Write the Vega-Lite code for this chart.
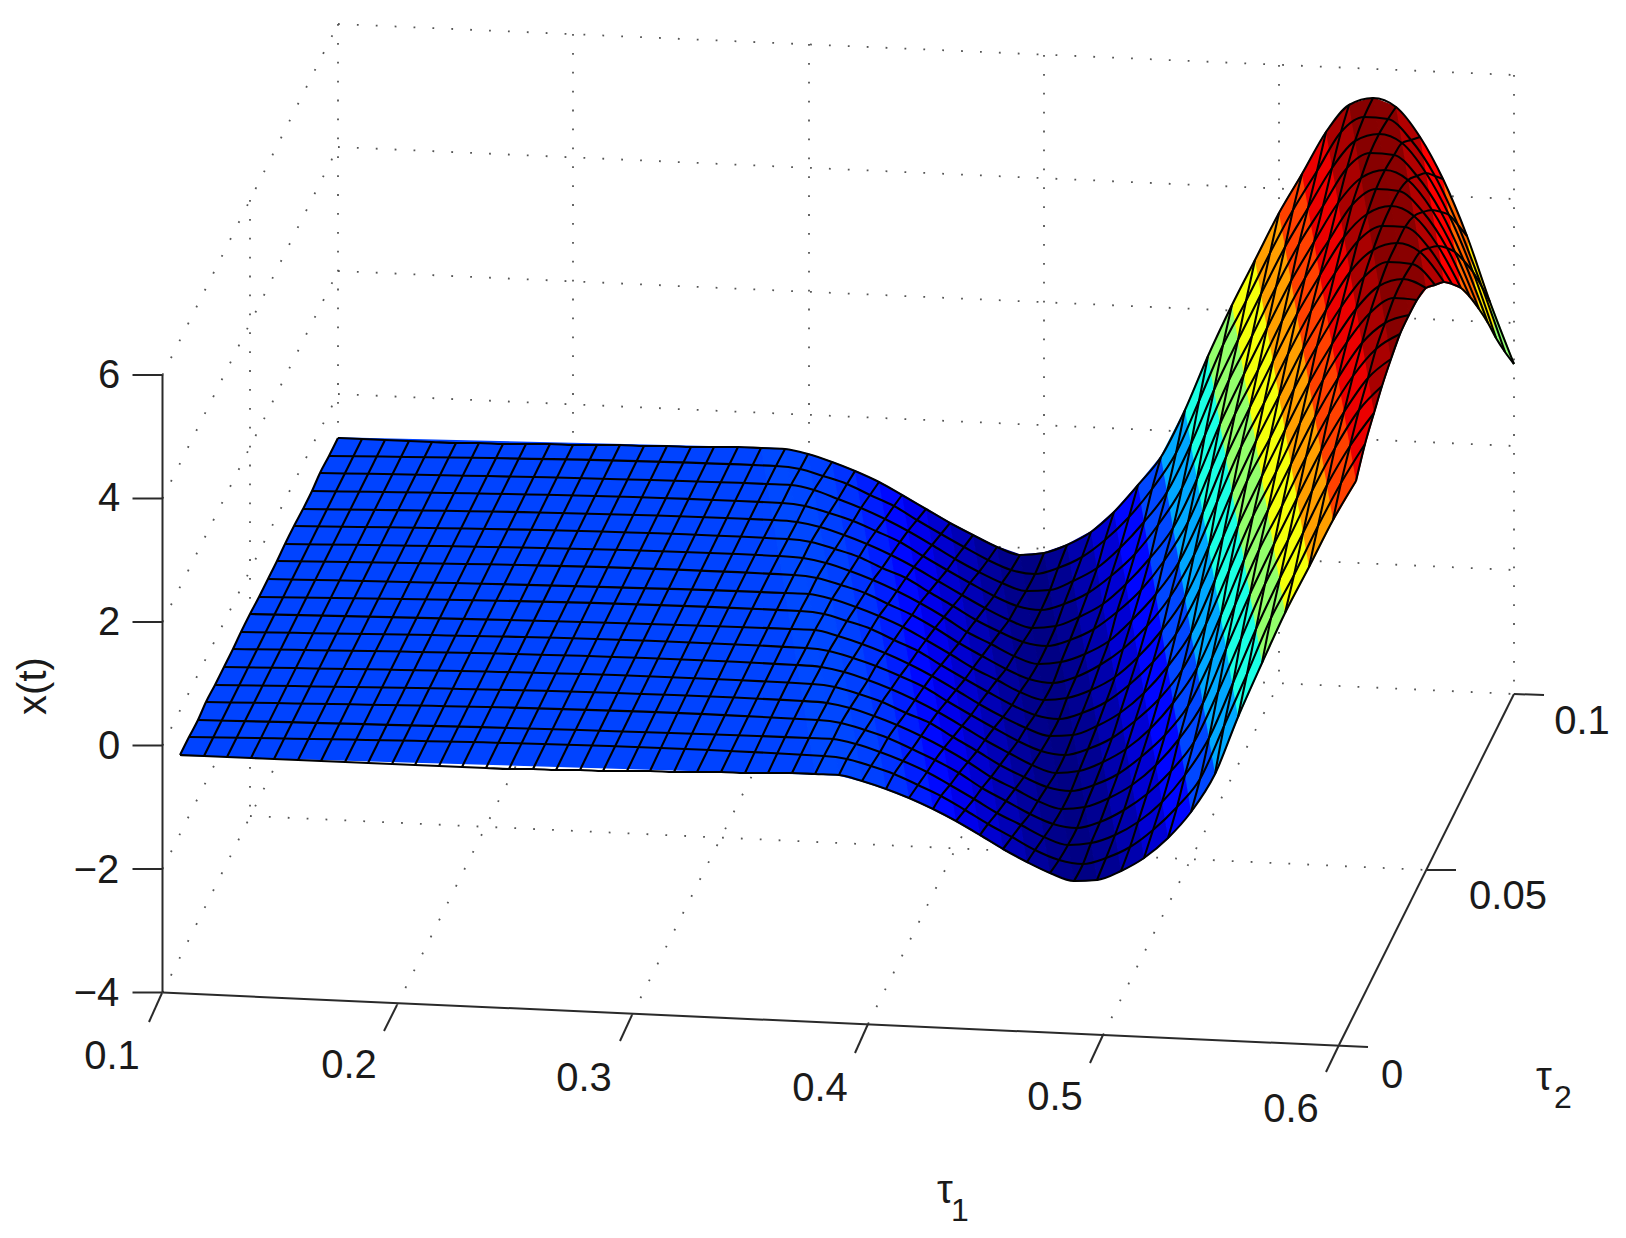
{"$schema":"https://vega.github.io/schema/vega-lite/v6.json","width":1626,"height":1238,"padding":0,"autosize":{"type":"fit","contains":"padding"},"background":"white","view":{"stroke":null},
"datasets":{
"box":[
{"l":"b0","x":338,"y":24},{"l":"b0","x":1514,"y":75},{"l":"b1","x":338,"y":147},{"l":"b1","x":1514,"y":199},{"l":"b2","x":338,"y":271},{"l":"b2","x":1514,"y":323},{"l":"b3","x":338,"y":394},{"l":"b3","x":1514,"y":446},{"l":"b4","x":338,"y":517},{"l":"b4","x":1514,"y":570},{"l":"b5","x":338,"y":640},{"l":"b5","x":1514,"y":694},
{"l":"v0","x":338,"y":24},{"l":"v0","x":338,"y":640},{"l":"v1","x":573,"y":34},{"l":"v1","x":573,"y":651},{"l":"v2","x":809,"y":44},{"l":"v2","x":809,"y":662},{"l":"v3","x":1044,"y":55},{"l":"v3","x":1044,"y":672},{"l":"v4","x":1279,"y":65},{"l":"v4","x":1279,"y":683},{"l":"v5","x":1514,"y":75},{"l":"v5","x":1514,"y":694},
{"l":"w0","x":162.5,"y":375},{"l":"w0","x":338,"y":24},{"l":"w1","x":162.5,"y":498.5},{"l":"w1","x":338,"y":147},{"l":"w2","x":162.5,"y":622},{"l":"w2","x":338,"y":271},{"l":"w3","x":162.5,"y":745.5},{"l":"w3","x":338,"y":394},{"l":"w4","x":162.5,"y":869},{"l":"w4","x":338,"y":517},{"l":"w5","x":162.5,"y":992.5},{"l":"w5","x":338,"y":640},
{"l":"m","x":250,"y":200},{"l":"m","x":250,"y":816},{"l":"f","x":250,"y":816},{"l":"f","x":1427,"y":870},
{"l":"g2","x":397,"y":1005},{"l":"g2","x":573,"y":651},{"l":"g3","x":632,"y":1015},{"l":"g3","x":809,"y":662},{"l":"g4","x":868,"y":1024},{"l":"g4","x":1044,"y":672},{"l":"g5","x":1103,"y":1035},{"l":"g5","x":1279,"y":683}],
"axes":[
{"l":"z","x":162.5,"y":375},{"l":"z","x":162.5,"y":992.5},
{"l":"z6","x":132.5,"y":375},{"l":"z6","x":162.5,"y":375},{"l":"z4","x":132.5,"y":498.5},{"l":"z4","x":162.5,"y":498.5},{"l":"z2","x":132.5,"y":622},{"l":"z2","x":162.5,"y":622},{"l":"z0","x":132.5,"y":745.5},{"l":"z0","x":162.5,"y":745.5},{"l":"zm2","x":132.5,"y":869},{"l":"zm2","x":162.5,"y":869},{"l":"zm4","x":132.5,"y":992.5},{"l":"zm4","x":162.5,"y":992.5},
{"l":"t1","x":162.5,"y":992.5},{"l":"t1","x":1368,"y":1047},
{"l":"a1","x":149,"y":1022},{"l":"a1","x":162,"y":993},{"l":"a2","x":384,"y":1031},{"l":"a2","x":397,"y":1005},{"l":"a3","x":620,"y":1041},{"l":"a3","x":632,"y":1015},{"l":"a4","x":855,"y":1053},{"l":"a4","x":868,"y":1024},{"l":"a5","x":1090,"y":1063},{"l":"a5","x":1103,"y":1035},{"l":"a6","x":1326,"y":1072},{"l":"a6","x":1339,"y":1045},
{"l":"t2","x":1339,"y":1045},{"l":"t2","x":1514,"y":694},{"l":"c1","x":1427,"y":870},{"l":"c1","x":1456,"y":870},{"l":"c2","x":1514,"y":694},{"l":"c2","x":1544,"y":695}],
"labels":[
{"t":"6","x":109,"y":376},{"t":"4","x":109,"y":499},{"t":"2","x":109,"y":623},{"t":"0","x":109,"y":747},{"t":"−2","x":96.5,"y":871},{"t":"−4","x":96.5,"y":994},
{"t":"0.1","x":112,"y":1057},{"t":"0.2","x":349,"y":1066},{"t":"0.3","x":584,"y":1079},{"t":"0.4","x":820,"y":1089},{"t":"0.5","x":1055,"y":1098},{"t":"0.6","x":1291,"y":1110},
{"t":"0","x":1392,"y":1076},{"t":"0.05","x":1508,"y":897},{"t":"0.1","x":1582,"y":722},
{"t":"τ","x":945,"y":1191},{"t":"τ","x":1544,"y":1078}],
"subs":[{"t":"1","x":960,"y":1211},{"t":"2","x":1563,"y":1098}],
"ylabel":[{"t":"x(t)","x":34,"y":686}],
"bands":[
{"b":26,"o":1,"z":-0.68,"x":180,"y":755},{"b":26,"o":2,"z":-0.68,"x":815,"y":774},{"b":26,"o":3,"z":-0.68,"x":761,"y":448},{"b":26,"o":4,"z":-0.68,"x":338,"y":438},
{"b":27,"o":1,"z":-0.63,"x":815,"y":774},{"b":27,"o":2,"z":-0.63,"x":839,"y":775},{"b":27,"o":3,"z":-0.63,"x":785,"y":449},{"b":27,"o":4,"z":-0.63,"x":761,"y":448},
{"b":28,"o":1,"z":-0.65,"x":839,"y":775},{"b":28,"o":2,"z":-0.65,"x":862,"y":781},{"b":28,"o":3,"z":-0.65,"x":808,"y":454},{"b":28,"o":4,"z":-0.65,"x":785,"y":449},
{"b":29,"o":1,"z":-0.7,"x":862,"y":781},{"b":29,"o":2,"z":-0.7,"x":886,"y":789},{"b":29,"o":3,"z":-0.7,"x":832,"y":462},{"b":29,"o":4,"z":-0.7,"x":808,"y":454},
{"b":30,"o":1,"z":-0.81,"x":886,"y":789},{"b":30,"o":2,"z":-0.81,"x":909,"y":798},{"b":30,"o":3,"z":-0.81,"x":855,"y":471},{"b":30,"o":4,"z":-0.81,"x":832,"y":462},
{"b":31,"o":1,"z":-0.96,"x":909,"y":798},{"b":31,"o":2,"z":-0.96,"x":933,"y":809},{"b":31,"o":3,"z":-0.96,"x":879,"y":482},{"b":31,"o":4,"z":-0.96,"x":855,"y":471},
{"b":32,"o":1,"z":-1.12,"x":933,"y":809},{"b":32,"o":2,"z":-1.12,"x":956,"y":821},{"b":32,"o":3,"z":-1.12,"x":902,"y":495},{"b":32,"o":4,"z":-1.12,"x":879,"y":482},
{"b":33,"o":1,"z":-1.33,"x":956,"y":821},{"b":33,"o":2,"z":-1.33,"x":980,"y":835},{"b":33,"o":3,"z":-1.33,"x":926,"y":509},{"b":33,"o":4,"z":-1.33,"x":902,"y":495},
{"b":34,"o":1,"z":-1.54,"x":980,"y":835},{"b":34,"o":2,"z":-1.54,"x":1003,"y":849},{"b":34,"o":3,"z":-1.54,"x":950,"y":523},{"b":34,"o":4,"z":-1.54,"x":926,"y":509},
{"b":35,"o":1,"z":-1.74,"x":1003,"y":849},{"b":35,"o":2,"z":-1.74,"x":1027,"y":862},{"b":35,"o":3,"z":-1.74,"x":973,"y":535},{"b":35,"o":4,"z":-1.74,"x":950,"y":523},
{"b":36,"o":1,"z":-1.93,"x":1027,"y":862},{"b":36,"o":2,"z":-1.93,"x":1050,"y":873},{"b":36,"o":3,"z":-1.93,"x":997,"y":547},{"b":36,"o":4,"z":-1.93,"x":973,"y":535},
{"b":37,"o":1,"z":-2.07,"x":1050,"y":873},{"b":37,"o":2,"z":-2.07,"x":1074,"y":881},{"b":37,"o":3,"z":-2.07,"x":1020,"y":555},{"b":37,"o":4,"z":-2.07,"x":997,"y":547},
{"b":38,"o":1,"z":-2.12,"x":1074,"y":881},{"b":38,"o":2,"z":-2.12,"x":1097,"y":880},{"b":38,"o":3,"z":-2.12,"x":1044,"y":553},{"b":38,"o":4,"z":-2.12,"x":1020,"y":555},
{"b":39,"o":1,"z":-2.01,"x":1097,"y":880},{"b":39,"o":2,"z":-2.01,"x":1121,"y":871},{"b":39,"o":3,"z":-2.01,"x":1067,"y":545},{"b":39,"o":4,"z":-2.01,"x":1044,"y":553},
{"b":40,"o":1,"z":-1.81,"x":1121,"y":871},{"b":40,"o":2,"z":-1.81,"x":1144,"y":858},{"b":40,"o":3,"z":-1.81,"x":1091,"y":532},{"b":40,"o":4,"z":-1.81,"x":1067,"y":545},
{"b":41,"o":1,"z":-1.52,"x":1144,"y":858},{"b":41,"o":2,"z":-1.52,"x":1168,"y":838},{"b":41,"o":3,"z":-1.52,"x":1114,"y":512},{"b":41,"o":4,"z":-1.52,"x":1091,"y":532},
{"b":42,"o":1,"z":-1.14,"x":1168,"y":838},{"b":42,"o":2,"z":-1.14,"x":1191,"y":812},{"b":42,"o":3,"z":-1.14,"x":1138,"y":485},{"b":42,"o":4,"z":-1.14,"x":1114,"y":512},
{"b":43,"o":1,"z":-0.65,"x":1191,"y":812},{"b":43,"o":2,"z":-0.65,"x":1215,"y":774},{"b":43,"o":3,"z":-0.65,"x":1161,"y":457},{"b":43,"o":4,"z":-0.65,"x":1138,"y":485},
{"b":44,"o":1,"z":0.08,"x":1215,"y":774},{"b":44,"o":2,"z":0.08,"x":1238,"y":717},{"b":44,"o":3,"z":0.08,"x":1185,"y":410},{"b":44,"o":4,"z":0.08,"x":1161,"y":457},
{"b":45,"o":1,"z":0.95,"x":1238,"y":717},{"b":45,"o":2,"z":0.95,"x":1262,"y":663},{"b":45,"o":3,"z":0.95,"x":1208,"y":356},{"b":45,"o":4,"z":0.95,"x":1185,"y":410},
{"b":46,"o":1,"z":1.86,"x":1262,"y":663},{"b":46,"o":2,"z":1.86,"x":1285,"y":613},{"b":46,"o":3,"z":1.86,"x":1232,"y":305},{"b":46,"o":4,"z":1.86,"x":1208,"y":356},
{"b":47,"o":1,"z":2.59,"x":1285,"y":613},{"b":47,"o":2,"z":2.59,"x":1309,"y":567},{"b":47,"o":3,"z":2.59,"x":1255,"y":260},{"b":47,"o":4,"z":2.59,"x":1232,"y":305},
{"b":48,"o":1,"z":3.4,"x":1309,"y":567},{"b":48,"o":2,"z":3.4,"x":1333,"y":520},{"b":48,"o":3,"z":3.4,"x":1279,"y":213},{"b":48,"o":4,"z":3.4,"x":1255,"y":260},
{"b":49,"o":1,"z":4.11,"x":1333,"y":520},{"b":49,"o":2,"z":4.11,"x":1356,"y":481},{"b":49,"o":3,"z":4.11,"x":1302,"y":174},{"b":49,"o":4,"z":4.11,"x":1279,"y":213},
{"b":50,"o":1,"z":4.75,"x":1356,"y":481},{"b":50,"o":2,"z":4.75,"x":1365,"y":444},{"b":50,"o":3,"z":4.75,"x":1374,"y":413},{"b":50,"o":4,"z":4.75,"x":1326,"y":132},{"b":50,"o":5,"z":4.75,"x":1302,"y":174},
{"b":51,"o":1,"z":5.26,"x":1374,"y":413},{"b":51,"o":2,"z":5.26,"x":1382,"y":386},{"b":51,"o":3,"z":5.26,"x":1391,"y":359},{"b":51,"o":4,"z":5.26,"x":1349,"y":105},{"b":51,"o":5,"z":5.26,"x":1326,"y":132},
{"b":52,"o":1,"z":5.52,"x":1391,"y":359},{"b":52,"o":2,"z":5.52,"x":1400,"y":334},{"b":52,"o":3,"z":5.52,"x":1409,"y":315},{"b":52,"o":4,"z":5.52,"x":1373,"y":98},{"b":52,"o":5,"z":5.52,"x":1349,"y":105},
{"b":53,"o":1,"z":5.5,"x":1409,"y":315},{"b":53,"o":2,"z":5.5,"x":1417,"y":300},{"b":53,"o":3,"z":5.5,"x":1426,"y":288},{"b":53,"o":4,"z":5.5,"x":1396,"y":107},{"b":53,"o":5,"z":5.5,"x":1373,"y":98},
{"b":54,"o":1,"z":5.19,"x":1426,"y":288},{"b":54,"o":2,"z":5.19,"x":1435,"y":285},{"b":54,"o":3,"z":5.19,"x":1444,"y":282},{"b":54,"o":4,"z":5.19,"x":1420,"y":137},{"b":54,"o":5,"z":5.19,"x":1396,"y":107},
{"b":55,"o":1,"z":4.62,"x":1444,"y":282},{"b":55,"o":2,"z":4.62,"x":1452,"y":284},{"b":55,"o":3,"z":4.62,"x":1461,"y":288},{"b":55,"o":4,"z":4.62,"x":1443,"y":179},{"b":55,"o":5,"z":4.62,"x":1420,"y":137},
{"b":56,"o":1,"z":3.84,"x":1461,"y":288},{"b":56,"o":2,"z":3.84,"x":1470,"y":297},{"b":56,"o":3,"z":3.84,"x":1479,"y":309},{"b":56,"o":4,"z":3.84,"x":1467,"y":236},{"b":56,"o":5,"z":3.84,"x":1443,"y":179},
{"b":57,"o":1,"z":2.85,"x":1479,"y":309},{"b":57,"o":2,"z":2.85,"x":1488,"y":323},{"b":57,"o":3,"z":2.85,"x":1496,"y":338},{"b":57,"o":4,"z":2.85,"x":1490,"y":302},{"b":57,"o":5,"z":2.85,"x":1467,"y":236},
{"b":58,"o":1,"z":1.82,"x":1496,"y":338},{"b":58,"o":2,"z":1.82,"x":1505,"y":352},{"b":58,"o":3,"z":1.82,"x":1514,"y":364},{"b":58,"o":4,"z":1.82,"x":1490,"y":302}],
"grid":[
{"i":0,"j":0,"x":180,"y":755},{"i":1,"j":0,"x":204,"y":756},{"i":2,"j":0,"x":227,"y":757},{"i":3,"j":0,"x":251,"y":758},{"i":4,"j":0,"x":274,"y":759},{"i":5,"j":0,"x":298,"y":760},{"i":6,"j":0,"x":321,"y":761},{"i":7,"j":0,"x":345,"y":762},{"i":8,"j":0,"x":368,"y":763},{"i":9,"j":0,"x":392,"y":764},{"i":10,"j":0,"x":415,"y":765},{"i":11,"j":0,"x":439,"y":766},{"i":12,"j":0,"x":462,"y":767},{"i":13,"j":0,"x":486,"y":768},{"i":14,"j":0,"x":509,"y":769},{"i":15,"j":0,"x":533,"y":769},{"i":16,"j":0,"x":556,"y":770},{"i":17,"j":0,"x":580,"y":770},{"i":18,"j":0,"x":603,"y":771},{"i":19,"j":0,"x":627,"y":771},{"i":20,"j":0,"x":650,"y":771},{"i":21,"j":0,"x":674,"y":772},{"i":22,"j":0,"x":697,"y":772},{"i":23,"j":0,"x":721,"y":772},{"i":24,"j":0,"x":745,"y":773},{"i":25,"j":0,"x":768,"y":773},{"i":26,"j":0,"x":792,"y":773},
{"i":27,"j":0,"x":815,"y":774},{"i":28,"j":0,"x":839,"y":775},{"i":29,"j":0,"x":862,"y":781},{"i":30,"j":0,"x":886,"y":789},{"i":31,"j":0,"x":909,"y":798},{"i":32,"j":0,"x":933,"y":809},{"i":33,"j":0,"x":956,"y":821},{"i":34,"j":0,"x":980,"y":835},{"i":35,"j":0,"x":1003,"y":849},{"i":36,"j":0,"x":1027,"y":862},{"i":37,"j":0,"x":1050,"y":873},{"i":38,"j":0,"x":1074,"y":881},{"i":39,"j":0,"x":1097,"y":880},{"i":40,"j":0,"x":1121,"y":871},{"i":41,"j":0,"x":1144,"y":858},{"i":42,"j":0,"x":1168,"y":838},{"i":43,"j":0,"x":1191,"y":812},{"i":44,"j":0,"x":1215,"y":774},{"i":45,"j":0,"x":1238,"y":717},{"i":46,"j":0,"x":1262,"y":663},{"i":47,"j":0,"x":1285,"y":613},{"i":48,"j":0,"x":1309,"y":567},{"i":49,"j":0,"x":1333,"y":520},{"i":50,"j":0,"x":1356,"y":481},
{"i":0,"j":1,"x":189,"y":737},{"i":27,"j":1,"x":824,"y":756},{"i":28,"j":1,"x":847,"y":759},{"i":29,"j":1,"x":871,"y":766},{"i":30,"j":1,"x":894,"y":774},{"i":31,"j":1,"x":918,"y":785},{"i":32,"j":1,"x":941,"y":796},{"i":33,"j":1,"x":965,"y":810},{"i":34,"j":1,"x":988,"y":824},{"i":35,"j":1,"x":1012,"y":837},{"i":36,"j":1,"x":1035,"y":850},{"i":37,"j":1,"x":1059,"y":860},{"i":38,"j":1,"x":1083,"y":864},{"i":39,"j":1,"x":1106,"y":858},{"i":40,"j":1,"x":1130,"y":847},{"i":41,"j":1,"x":1153,"y":830},{"i":42,"j":1,"x":1177,"y":807},{"i":43,"j":1,"x":1200,"y":779},{"i":44,"j":1,"x":1224,"y":726},{"i":45,"j":1,"x":1247,"y":674},{"i":46,"j":1,"x":1271,"y":618},{"i":47,"j":1,"x":1294,"y":575},{"i":48,"j":1,"x":1318,"y":526},{"i":49,"j":1,"x":1341,"y":483},{"i":50,"j":1,"x":1365,"y":444},
{"i":0,"j":2,"x":198,"y":720},{"i":26,"j":2,"x":809,"y":738},{"i":27,"j":2,"x":833,"y":739},{"i":28,"j":2,"x":856,"y":744},{"i":29,"j":2,"x":880,"y":752},{"i":30,"j":2,"x":903,"y":761},{"i":31,"j":2,"x":927,"y":772},{"i":32,"j":2,"x":950,"y":785},{"i":33,"j":2,"x":974,"y":799},{"i":34,"j":2,"x":997,"y":813},{"i":35,"j":2,"x":1021,"y":825},{"i":36,"j":2,"x":1044,"y":837},{"i":37,"j":2,"x":1068,"y":845},{"i":38,"j":2,"x":1091,"y":843},{"i":39,"j":2,"x":1115,"y":835},{"i":40,"j":2,"x":1138,"y":822},{"i":41,"j":2,"x":1162,"y":802},{"i":42,"j":2,"x":1185,"y":775},{"i":43,"j":2,"x":1209,"y":738},{"i":44,"j":2,"x":1233,"y":683},{"i":45,"j":2,"x":1256,"y":629},{"i":46,"j":2,"x":1280,"y":578},{"i":47,"j":2,"x":1303,"y":533},{"i":48,"j":2,"x":1327,"y":485},{"i":49,"j":2,"x":1350,"y":446},{"i":50,"j":2,"x":1374,"y":413},
{"i":0,"j":3,"x":206,"y":702},{"i":26,"j":3,"x":818,"y":720},{"i":27,"j":3,"x":841,"y":723},{"i":28,"j":3,"x":865,"y":730},{"i":29,"j":3,"x":888,"y":738},{"i":30,"j":3,"x":912,"y":749},{"i":31,"j":3,"x":935,"y":760},{"i":32,"j":3,"x":959,"y":773},{"i":33,"j":3,"x":982,"y":788},{"i":34,"j":3,"x":1006,"y":801},{"i":35,"j":3,"x":1030,"y":814},{"i":36,"j":3,"x":1053,"y":824},{"i":37,"j":3,"x":1077,"y":828},{"i":38,"j":3,"x":1100,"y":822},{"i":39,"j":3,"x":1124,"y":810},{"i":40,"j":3,"x":1147,"y":794},{"i":41,"j":3,"x":1171,"y":771},{"i":42,"j":3,"x":1194,"y":742},{"i":43,"j":3,"x":1218,"y":692},{"i":44,"j":3,"x":1241,"y":639},{"i":45,"j":3,"x":1265,"y":584},{"i":46,"j":3,"x":1288,"y":540},{"i":47,"j":3,"x":1312,"y":491},{"i":48,"j":3,"x":1335,"y":448},{"i":49,"j":3,"x":1359,"y":410},{"i":50,"j":3,"x":1382,"y":386},
{"i":0,"j":4,"x":215,"y":685},{"i":25,"j":4,"x":803,"y":701},{"i":26,"j":4,"x":827,"y":703},{"i":27,"j":4,"x":850,"y":708},{"i":28,"j":4,"x":874,"y":716},{"i":29,"j":4,"x":897,"y":725},{"i":30,"j":4,"x":921,"y":736},{"i":31,"j":4,"x":944,"y":748},{"i":32,"j":4,"x":968,"y":762},{"i":33,"j":4,"x":991,"y":777},{"i":34,"j":4,"x":1015,"y":789},{"i":35,"j":4,"x":1038,"y":801},{"i":36,"j":4,"x":1062,"y":809},{"i":37,"j":4,"x":1085,"y":807},{"i":38,"j":4,"x":1109,"y":798},{"i":39,"j":4,"x":1132,"y":785},{"i":40,"j":4,"x":1156,"y":765},{"i":41,"j":4,"x":1179,"y":739},{"i":42,"j":4,"x":1203,"y":703},{"i":43,"j":4,"x":1226,"y":649},{"i":44,"j":4,"x":1250,"y":594},{"i":45,"j":4,"x":1274,"y":544},{"i":46,"j":4,"x":1297,"y":498},{"i":47,"j":4,"x":1321,"y":451},{"i":48,"j":4,"x":1344,"y":412},{"i":49,"j":4,"x":1368,"y":378},{"i":50,"j":4,"x":1391,"y":359},
{"i":0,"j":5,"x":224,"y":667},{"i":25,"j":5,"x":812,"y":684},{"i":26,"j":5,"x":835,"y":687},{"i":27,"j":5,"x":859,"y":694},{"i":28,"j":5,"x":882,"y":702},{"i":29,"j":5,"x":906,"y":713},{"i":30,"j":5,"x":930,"y":723},{"i":31,"j":5,"x":953,"y":737},{"i":32,"j":5,"x":977,"y":751},{"i":33,"j":5,"x":1000,"y":765},{"i":34,"j":5,"x":1024,"y":777},{"i":35,"j":5,"x":1047,"y":787},{"i":36,"j":5,"x":1071,"y":791},{"i":37,"j":5,"x":1094,"y":785},{"i":38,"j":5,"x":1118,"y":774},{"i":39,"j":5,"x":1141,"y":757},{"i":40,"j":5,"x":1165,"y":735},{"i":41,"j":5,"x":1188,"y":706},{"i":42,"j":5,"x":1212,"y":658},{"i":43,"j":5,"x":1235,"y":605},{"i":44,"j":5,"x":1259,"y":550},{"i":45,"j":5,"x":1282,"y":506},{"i":46,"j":5,"x":1306,"y":457},{"i":47,"j":5,"x":1329,"y":414},{"i":48,"j":5,"x":1353,"y":376},{"i":49,"j":5,"x":1376,"y":349},{"i":50,"j":5,"x":1400,"y":334},
{"i":0,"j":6,"x":233,"y":649},{"i":24,"j":6,"x":797,"y":665},{"i":25,"j":6,"x":821,"y":667},{"i":26,"j":6,"x":844,"y":672},{"i":27,"j":6,"x":868,"y":680},{"i":28,"j":6,"x":891,"y":689},{"i":29,"j":6,"x":915,"y":700},{"i":30,"j":6,"x":938,"y":712},{"i":31,"j":6,"x":962,"y":726},{"i":32,"j":6,"x":985,"y":740},{"i":33,"j":6,"x":1009,"y":753},{"i":34,"j":6,"x":1032,"y":765},{"i":35,"j":6,"x":1056,"y":773},{"i":36,"j":6,"x":1079,"y":771},{"i":37,"j":6,"x":1103,"y":762},{"i":38,"j":6,"x":1126,"y":749},{"i":39,"j":6,"x":1150,"y":729},{"i":40,"j":6,"x":1173,"y":703},{"i":41,"j":6,"x":1197,"y":668},{"i":42,"j":6,"x":1221,"y":615},{"i":43,"j":6,"x":1244,"y":560},{"i":44,"j":6,"x":1268,"y":510},{"i":45,"j":6,"x":1291,"y":464},{"i":46,"j":6,"x":1315,"y":417},{"i":47,"j":6,"x":1338,"y":378},{"i":48,"j":6,"x":1362,"y":343},{"i":49,"j":6,"x":1385,"y":323},{"i":50,"j":6,"x":1409,"y":315},
{"i":0,"j":7,"x":241,"y":632},{"i":24,"j":7,"x":806,"y":648},{"i":25,"j":7,"x":829,"y":651},{"i":26,"j":7,"x":853,"y":658},{"i":27,"j":7,"x":876,"y":666},{"i":28,"j":7,"x":900,"y":676},{"i":29,"j":7,"x":924,"y":687},{"i":30,"j":7,"x":947,"y":701},{"i":31,"j":7,"x":971,"y":715},{"i":32,"j":7,"x":994,"y":728},{"i":33,"j":7,"x":1018,"y":741},{"i":34,"j":7,"x":1041,"y":751},{"i":35,"j":7,"x":1065,"y":755},{"i":36,"j":7,"x":1088,"y":749},{"i":37,"j":7,"x":1112,"y":738},{"i":38,"j":7,"x":1135,"y":721},{"i":39,"j":7,"x":1159,"y":699},{"i":40,"j":7,"x":1182,"y":670},{"i":41,"j":7,"x":1206,"y":624},{"i":42,"j":7,"x":1229,"y":571},{"i":43,"j":7,"x":1253,"y":516},{"i":44,"j":7,"x":1276,"y":472},{"i":45,"j":7,"x":1300,"y":423},{"i":46,"j":7,"x":1323,"y":380},{"i":47,"j":7,"x":1347,"y":342},{"i":48,"j":7,"x":1370,"y":313},{"i":49,"j":7,"x":1394,"y":298},{"i":50,"j":7,"x":1417,"y":300},
{"i":0,"j":8,"x":250,"y":614},{"i":23,"j":8,"x":791,"y":629},{"i":24,"j":8,"x":815,"y":630},{"i":25,"j":8,"x":838,"y":636},{"i":26,"j":8,"x":862,"y":644},{"i":27,"j":8,"x":885,"y":653},{"i":28,"j":8,"x":909,"y":664},{"i":29,"j":8,"x":932,"y":676},{"i":30,"j":8,"x":956,"y":690},{"i":31,"j":8,"x":979,"y":704},{"i":32,"j":8,"x":1003,"y":717},{"i":33,"j":8,"x":1026,"y":728},{"i":34,"j":8,"x":1050,"y":736},{"i":35,"j":8,"x":1073,"y":735},{"i":36,"j":8,"x":1097,"y":726},{"i":37,"j":8,"x":1120,"y":713},{"i":38,"j":8,"x":1144,"y":693},{"i":39,"j":8,"x":1168,"y":666},{"i":40,"j":8,"x":1191,"y":633},{"i":41,"j":8,"x":1215,"y":580},{"i":42,"j":8,"x":1238,"y":526},{"i":43,"j":8,"x":1262,"y":476},{"i":44,"j":8,"x":1285,"y":430},{"i":45,"j":8,"x":1309,"y":383},{"i":46,"j":8,"x":1332,"y":344},{"i":47,"j":8,"x":1356,"y":309},{"i":48,"j":8,"x":1379,"y":286},{"i":49,"j":8,"x":1403,"y":279},{"i":50,"j":8,"x":1426,"y":288},
{"i":0,"j":9,"x":259,"y":597},{"i":23,"j":9,"x":800,"y":611},{"i":24,"j":9,"x":824,"y":614},{"i":25,"j":9,"x":847,"y":621},{"i":26,"j":9,"x":871,"y":629},{"i":27,"j":9,"x":894,"y":640},{"i":28,"j":9,"x":918,"y":651},{"i":29,"j":9,"x":941,"y":665},{"i":30,"j":9,"x":965,"y":679},{"i":31,"j":9,"x":988,"y":692},{"i":32,"j":9,"x":1012,"y":705},{"i":33,"j":9,"x":1035,"y":715},{"i":34,"j":9,"x":1059,"y":719},{"i":35,"j":9,"x":1082,"y":713},{"i":36,"j":9,"x":1106,"y":702},{"i":37,"j":9,"x":1129,"y":685},{"i":38,"j":9,"x":1153,"y":662},{"i":39,"j":9,"x":1176,"y":634},{"i":40,"j":9,"x":1200,"y":589},{"i":41,"j":9,"x":1223,"y":537},{"i":42,"j":9,"x":1247,"y":481},{"i":43,"j":9,"x":1270,"y":438},{"i":44,"j":9,"x":1294,"y":389},{"i":45,"j":9,"x":1317,"y":346},{"i":46,"j":9,"x":1341,"y":307},{"i":47,"j":9,"x":1364,"y":277},{"i":48,"j":9,"x":1388,"y":262},{"i":49,"j":9,"x":1412,"y":264},{"i":50,"j":9,"x":1435,"y":285},
{"i":0,"j":10,"x":268,"y":579},{"i":22,"j":10,"x":785,"y":593},{"i":23,"j":10,"x":809,"y":594},{"i":24,"j":10,"x":832,"y":599},{"i":25,"j":10,"x":856,"y":607},{"i":26,"j":10,"x":879,"y":616},{"i":27,"j":10,"x":903,"y":627},{"i":28,"j":10,"x":926,"y":640},{"i":29,"j":10,"x":950,"y":654},{"i":30,"j":10,"x":973,"y":668},{"i":31,"j":10,"x":997,"y":680},{"i":32,"j":10,"x":1020,"y":692},{"i":33,"j":10,"x":1044,"y":700},{"i":34,"j":10,"x":1067,"y":698},{"i":35,"j":10,"x":1091,"y":690},{"i":36,"j":10,"x":1115,"y":677},{"i":37,"j":10,"x":1138,"y":657},{"i":38,"j":10,"x":1162,"y":630},{"i":39,"j":10,"x":1185,"y":597},{"i":40,"j":10,"x":1209,"y":546},{"i":41,"j":10,"x":1232,"y":492},{"i":42,"j":10,"x":1256,"y":441},{"i":43,"j":10,"x":1279,"y":396},{"i":44,"j":10,"x":1303,"y":349},{"i":45,"j":10,"x":1326,"y":310},{"i":46,"j":10,"x":1350,"y":272},{"i":47,"j":10,"x":1373,"y":250},{"i":48,"j":10,"x":1397,"y":243},{"i":49,"j":10,"x":1420,"y":252},{"i":50,"j":10,"x":1444,"y":282},
{"i":0,"j":11,"x":277,"y":561},{"i":22,"j":11,"x":794,"y":575},{"i":23,"j":11,"x":817,"y":578},{"i":24,"j":11,"x":841,"y":585},{"i":25,"j":11,"x":865,"y":593},{"i":26,"j":11,"x":888,"y":604},{"i":27,"j":11,"x":912,"y":615},{"i":28,"j":11,"x":935,"y":628},{"i":29,"j":11,"x":959,"y":643},{"i":30,"j":11,"x":982,"y":656},{"i":31,"j":11,"x":1006,"y":669},{"i":32,"j":11,"x":1029,"y":679},{"i":33,"j":11,"x":1053,"y":683},{"i":34,"j":11,"x":1076,"y":677},{"i":35,"j":11,"x":1100,"y":665},{"i":36,"j":11,"x":1123,"y":649},{"i":37,"j":11,"x":1147,"y":626},{"i":38,"j":11,"x":1170,"y":597},{"i":39,"j":11,"x":1194,"y":555},{"i":40,"j":11,"x":1217,"y":502},{"i":41,"j":11,"x":1241,"y":447},{"i":42,"j":11,"x":1264,"y":403},{"i":43,"j":11,"x":1288,"y":354},{"i":44,"j":11,"x":1311,"y":311},{"i":45,"j":11,"x":1335,"y":273},{"i":46,"j":11,"x":1358,"y":241},{"i":47,"j":11,"x":1382,"y":226},{"i":48,"j":11,"x":1405,"y":227},{"i":49,"j":11,"x":1429,"y":248},{"i":50,"j":11,"x":1452,"y":284},
{"i":0,"j":12,"x":285,"y":544},{"i":21,"j":12,"x":779,"y":556},{"i":22,"j":12,"x":803,"y":558},{"i":23,"j":12,"x":826,"y":563},{"i":24,"j":12,"x":850,"y":571},{"i":25,"j":12,"x":873,"y":580},{"i":26,"j":12,"x":897,"y":591},{"i":27,"j":12,"x":920,"y":603},{"i":28,"j":12,"x":944,"y":617},{"i":29,"j":12,"x":967,"y":632},{"i":30,"j":12,"x":991,"y":644},{"i":31,"j":12,"x":1014,"y":656},{"i":32,"j":12,"x":1038,"y":664},{"i":33,"j":12,"x":1061,"y":662},{"i":34,"j":12,"x":1085,"y":654},{"i":35,"j":12,"x":1109,"y":641},{"i":36,"j":12,"x":1132,"y":620},{"i":37,"j":12,"x":1156,"y":594},{"i":38,"j":12,"x":1179,"y":562},{"i":39,"j":12,"x":1203,"y":512},{"i":40,"j":12,"x":1226,"y":457},{"i":41,"j":12,"x":1250,"y":407},{"i":42,"j":12,"x":1273,"y":361},{"i":43,"j":12,"x":1297,"y":314},{"i":44,"j":12,"x":1320,"y":275},{"i":45,"j":12,"x":1344,"y":237},{"i":46,"j":12,"x":1367,"y":214},{"i":47,"j":12,"x":1391,"y":206},{"i":48,"j":12,"x":1414,"y":216},{"i":49,"j":12,"x":1438,"y":246},{"i":50,"j":12,"x":1461,"y":288},
{"i":0,"j":13,"x":294,"y":526},{"i":21,"j":13,"x":788,"y":539},{"i":22,"j":13,"x":811,"y":542},{"i":23,"j":13,"x":835,"y":549},{"i":24,"j":13,"x":859,"y":557},{"i":25,"j":13,"x":882,"y":568},{"i":26,"j":13,"x":906,"y":578},{"i":27,"j":13,"x":929,"y":592},{"i":28,"j":13,"x":953,"y":606},{"i":29,"j":13,"x":976,"y":620},{"i":30,"j":13,"x":1000,"y":632},{"i":31,"j":13,"x":1023,"y":642},{"i":32,"j":13,"x":1047,"y":646},{"i":33,"j":13,"x":1070,"y":640},{"i":34,"j":13,"x":1094,"y":629},{"i":35,"j":13,"x":1117,"y":612},{"i":36,"j":13,"x":1141,"y":590},{"i":37,"j":13,"x":1164,"y":561},{"i":38,"j":13,"x":1188,"y":522},{"i":39,"j":13,"x":1211,"y":469},{"i":40,"j":13,"x":1235,"y":414},{"i":41,"j":13,"x":1258,"y":370},{"i":42,"j":13,"x":1282,"y":321},{"i":43,"j":13,"x":1305,"y":278},{"i":44,"j":13,"x":1329,"y":240},{"i":45,"j":13,"x":1352,"y":205},{"i":46,"j":13,"x":1376,"y":189},{"i":47,"j":13,"x":1399,"y":191},{"i":48,"j":13,"x":1423,"y":212},{"i":49,"j":13,"x":1447,"y":248},{"i":50,"j":13,"x":1470,"y":297},
{"i":0,"j":14,"x":303,"y":509},{"i":20,"j":14,"x":773,"y":520},{"i":21,"j":14,"x":797,"y":522},{"i":22,"j":14,"x":820,"y":527},{"i":23,"j":14,"x":844,"y":535},{"i":24,"j":14,"x":867,"y":544},{"i":25,"j":14,"x":891,"y":555},{"i":26,"j":14,"x":914,"y":567},{"i":27,"j":14,"x":938,"y":581},{"i":28,"j":14,"x":962,"y":595},{"i":29,"j":14,"x":985,"y":608},{"i":30,"j":14,"x":1009,"y":620},{"i":31,"j":14,"x":1032,"y":628},{"i":32,"j":14,"x":1056,"y":626},{"i":33,"j":14,"x":1079,"y":617},{"i":34,"j":14,"x":1103,"y":604},{"i":35,"j":14,"x":1126,"y":584},{"i":36,"j":14,"x":1150,"y":558},{"i":37,"j":14,"x":1173,"y":528},{"i":38,"j":14,"x":1197,"y":479},{"i":39,"j":14,"x":1220,"y":424},{"i":40,"j":14,"x":1244,"y":374},{"i":41,"j":14,"x":1267,"y":328},{"i":42,"j":14,"x":1291,"y":281},{"i":43,"j":14,"x":1314,"y":242},{"i":44,"j":14,"x":1338,"y":203},{"i":45,"j":14,"x":1361,"y":178},{"i":46,"j":14,"x":1385,"y":170},{"i":47,"j":14,"x":1408,"y":180},{"i":48,"j":14,"x":1432,"y":210},{"i":49,"j":14,"x":1455,"y":252},{"i":50,"j":14,"x":1479,"y":309},
{"i":0,"j":15,"x":312,"y":491},{"i":20,"j":15,"x":782,"y":503},{"i":21,"j":15,"x":805,"y":506},{"i":22,"j":15,"x":829,"y":513},{"i":23,"j":15,"x":853,"y":521},{"i":24,"j":15,"x":876,"y":531},{"i":25,"j":15,"x":900,"y":542},{"i":26,"j":15,"x":923,"y":556},{"i":27,"j":15,"x":947,"y":570},{"i":28,"j":15,"x":970,"y":583},{"i":29,"j":15,"x":994,"y":596},{"i":30,"j":15,"x":1017,"y":606},{"i":31,"j":15,"x":1041,"y":610},{"i":32,"j":15,"x":1064,"y":604},{"i":33,"j":15,"x":1088,"y":593},{"i":34,"j":15,"x":1111,"y":576},{"i":35,"j":15,"x":1135,"y":554},{"i":36,"j":15,"x":1158,"y":525},{"i":37,"j":15,"x":1182,"y":488},{"i":38,"j":15,"x":1205,"y":435},{"i":39,"j":15,"x":1229,"y":380},{"i":40,"j":15,"x":1252,"y":336},{"i":41,"j":15,"x":1276,"y":287},{"i":42,"j":15,"x":1299,"y":244},{"i":43,"j":15,"x":1323,"y":206},{"i":44,"j":15,"x":1347,"y":168},{"i":45,"j":15,"x":1370,"y":153},{"i":46,"j":15,"x":1394,"y":155},{"i":47,"j":15,"x":1417,"y":176},{"i":48,"j":15,"x":1441,"y":212},{"i":49,"j":15,"x":1464,"y":261},{"i":50,"j":15,"x":1488,"y":323},
{"i":0,"j":16,"x":320,"y":473},{"i":19,"j":16,"x":767,"y":484},{"i":20,"j":16,"x":791,"y":485},{"i":21,"j":16,"x":814,"y":490},{"i":22,"j":16,"x":838,"y":499},{"i":23,"j":16,"x":861,"y":508},{"i":24,"j":16,"x":885,"y":519},{"i":25,"j":16,"x":908,"y":531},{"i":26,"j":16,"x":932,"y":545},{"i":27,"j":16,"x":955,"y":559},{"i":28,"j":16,"x":979,"y":572},{"i":29,"j":16,"x":1002,"y":583},{"i":30,"j":16,"x":1026,"y":591},{"i":31,"j":16,"x":1050,"y":590},{"i":32,"j":16,"x":1073,"y":581},{"i":33,"j":16,"x":1097,"y":568},{"i":34,"j":16,"x":1120,"y":548},{"i":35,"j":16,"x":1144,"y":522},{"i":36,"j":16,"x":1167,"y":492},{"i":37,"j":16,"x":1191,"y":444},{"i":38,"j":16,"x":1214,"y":390},{"i":39,"j":16,"x":1238,"y":340},{"i":40,"j":16,"x":1261,"y":294},{"i":41,"j":16,"x":1285,"y":247},{"i":42,"j":16,"x":1308,"y":208},{"i":43,"j":16,"x":1332,"y":168},{"i":44,"j":16,"x":1355,"y":141},{"i":45,"j":16,"x":1379,"y":134},{"i":46,"j":16,"x":1402,"y":143},{"i":47,"j":16,"x":1426,"y":173},{"i":48,"j":16,"x":1449,"y":215},{"i":49,"j":16,"x":1473,"y":272},{"i":50,"j":16,"x":1496,"y":338},
{"i":0,"j":17,"x":329,"y":456},{"i":19,"j":17,"x":776,"y":466},{"i":20,"j":17,"x":800,"y":469},{"i":21,"j":17,"x":823,"y":476},{"i":22,"j":17,"x":847,"y":484},{"i":23,"j":17,"x":870,"y":495},{"i":24,"j":17,"x":894,"y":506},{"i":25,"j":17,"x":917,"y":520},{"i":26,"j":17,"x":941,"y":534},{"i":27,"j":17,"x":964,"y":547},{"i":28,"j":17,"x":988,"y":560},{"i":29,"j":17,"x":1011,"y":570},{"i":30,"j":17,"x":1035,"y":574},{"i":31,"j":17,"x":1058,"y":568},{"i":32,"j":17,"x":1082,"y":557},{"i":33,"j":17,"x":1105,"y":540},{"i":34,"j":17,"x":1129,"y":517},{"i":35,"j":17,"x":1152,"y":489},{"i":36,"j":17,"x":1176,"y":453},{"i":37,"j":17,"x":1199,"y":401},{"i":38,"j":17,"x":1223,"y":345},{"i":39,"j":17,"x":1246,"y":301},{"i":40,"j":17,"x":1270,"y":253},{"i":41,"j":17,"x":1293,"y":210},{"i":42,"j":17,"x":1317,"y":171},{"i":43,"j":17,"x":1341,"y":132},{"i":44,"j":17,"x":1364,"y":117},{"i":45,"j":17,"x":1388,"y":119},{"i":46,"j":17,"x":1411,"y":140},{"i":47,"j":17,"x":1435,"y":176},{"i":48,"j":17,"x":1458,"y":225},{"i":49,"j":17,"x":1482,"y":287},{"i":50,"j":17,"x":1505,"y":352},
{"i":0,"j":18,"x":338,"y":438},{"i":1,"j":18,"x":362,"y":439},{"i":2,"j":18,"x":385,"y":440},{"i":3,"j":18,"x":409,"y":441},{"i":4,"j":18,"x":432,"y":442},{"i":5,"j":18,"x":456,"y":443},{"i":6,"j":18,"x":479,"y":443},{"i":7,"j":18,"x":503,"y":444},{"i":8,"j":18,"x":526,"y":444},{"i":9,"j":18,"x":550,"y":444},{"i":10,"j":18,"x":573,"y":445},{"i":11,"j":18,"x":597,"y":445},{"i":12,"j":18,"x":620,"y":445},{"i":13,"j":18,"x":644,"y":446},{"i":14,"j":18,"x":667,"y":446},{"i":15,"j":18,"x":691,"y":447},{"i":16,"j":18,"x":714,"y":447},{"i":17,"j":18,"x":738,"y":447},{"i":18,"j":18,"x":761,"y":448},{"i":19,"j":18,"x":785,"y":449},{"i":20,"j":18,"x":808,"y":454},{"i":21,"j":18,"x":832,"y":462},{"i":22,"j":18,"x":855,"y":471},{"i":23,"j":18,"x":879,"y":482},{"i":24,"j":18,"x":902,"y":495},{"i":25,"j":18,"x":926,"y":509},{"i":26,"j":18,"x":950,"y":523},{"i":27,"j":18,"x":973,"y":535},{"i":28,"j":18,"x":997,"y":547},{"i":29,"j":18,"x":1020,"y":555},{"i":30,"j":18,"x":1044,"y":553},{"i":31,"j":18,"x":1067,"y":545},{"i":32,"j":18,"x":1091,"y":532},{"i":33,"j":18,"x":1114,"y":512},{"i":34,"j":18,"x":1138,"y":485},{"i":35,"j":18,"x":1161,"y":457},{"i":36,"j":18,"x":1185,"y":410},{"i":37,"j":18,"x":1208,"y":356},{"i":38,"j":18,"x":1232,"y":305},{"i":39,"j":18,"x":1255,"y":260},{"i":40,"j":18,"x":1279,"y":213},{"i":41,"j":18,"x":1302,"y":174},{"i":42,"j":18,"x":1326,"y":132},{"i":43,"j":18,"x":1349,"y":105},{"i":44,"j":18,"x":1373,"y":98},{"i":45,"j":18,"x":1396,"y":107},{"i":46,"j":18,"x":1420,"y":137},{"i":47,"j":18,"x":1443,"y":179},{"i":48,"j":18,"x":1467,"y":236},{"i":49,"j":18,"x":1490,"y":302},{"i":50,"j":18,"x":1514,"y":364}]
},
"encoding":{
"x":{"field":"x","type":"quantitative","scale":{"domain":[0,1626],"nice":false,"zero":false},"axis":null},
"y":{"field":"y","type":"quantitative","scale":{"domain":[1238,0],"nice":false,"zero":false},"axis":null}},
"layer":[
{"data":{"name":"box"},"mark":{"type":"line","stroke":"#555555","strokeWidth":1.8,"strokeDash":[1.8,17.1]},"encoding":{"detail":{"field":"l"}}},
{"data":{"name":"axes"},"mark":{"type":"line","stroke":"#2a2a2a","strokeWidth":2},"encoding":{"detail":{"field":"l"}}},
{"data":{"name":"bands"},"mark":{"type":"line","strokeWidth":1.5},"encoding":{"detail":{"field":"b"},"order":{"field":"o"},
"fill":{"field":"z","type":"quantitative","legend":null,"scale":{"domain":[-2.15,-1.185,0.745,2.675,4.605,5.57],"range":["#000080","#0000ff","#00ffff","#ffff00","#ff0000","#800000"],"interpolate":"rgb"}},
"stroke":{"field":"z","type":"quantitative","legend":null,"scale":{"domain":[-2.15,-1.185,0.745,2.675,4.605,5.57],"range":["#000080","#0000ff","#00ffff","#ffff00","#ff0000","#800000"],"interpolate":"rgb"}}}},
{"data":{"name":"grid"},"mark":{"type":"line","stroke":"#000000","strokeWidth":2.1,"interpolate":"monotone"},"encoding":{"detail":{"field":"j"}}},
{"data":{"name":"grid"},"mark":{"type":"line","stroke":"#000000","strokeWidth":2.1,"interpolate":"monotone"},"encoding":{"detail":{"field":"i"}}},
{"data":{"name":"labels"},"mark":{"type":"text","font":"Liberation Sans","fontSize":40,"color":"#1a1a1a","align":"center","baseline":"middle"},"encoding":{"text":{"field":"t"}}},
{"data":{"name":"subs"},"mark":{"type":"text","font":"Liberation Sans","fontSize":32,"color":"#1a1a1a","align":"center","baseline":"middle"},"encoding":{"text":{"field":"t"}}},
{"data":{"name":"ylabel"},"mark":{"type":"text","font":"Liberation Sans","fontSize":40,"color":"#1a1a1a","align":"center","baseline":"middle","angle":270},"encoding":{"text":{"field":"t"}}}
]}
